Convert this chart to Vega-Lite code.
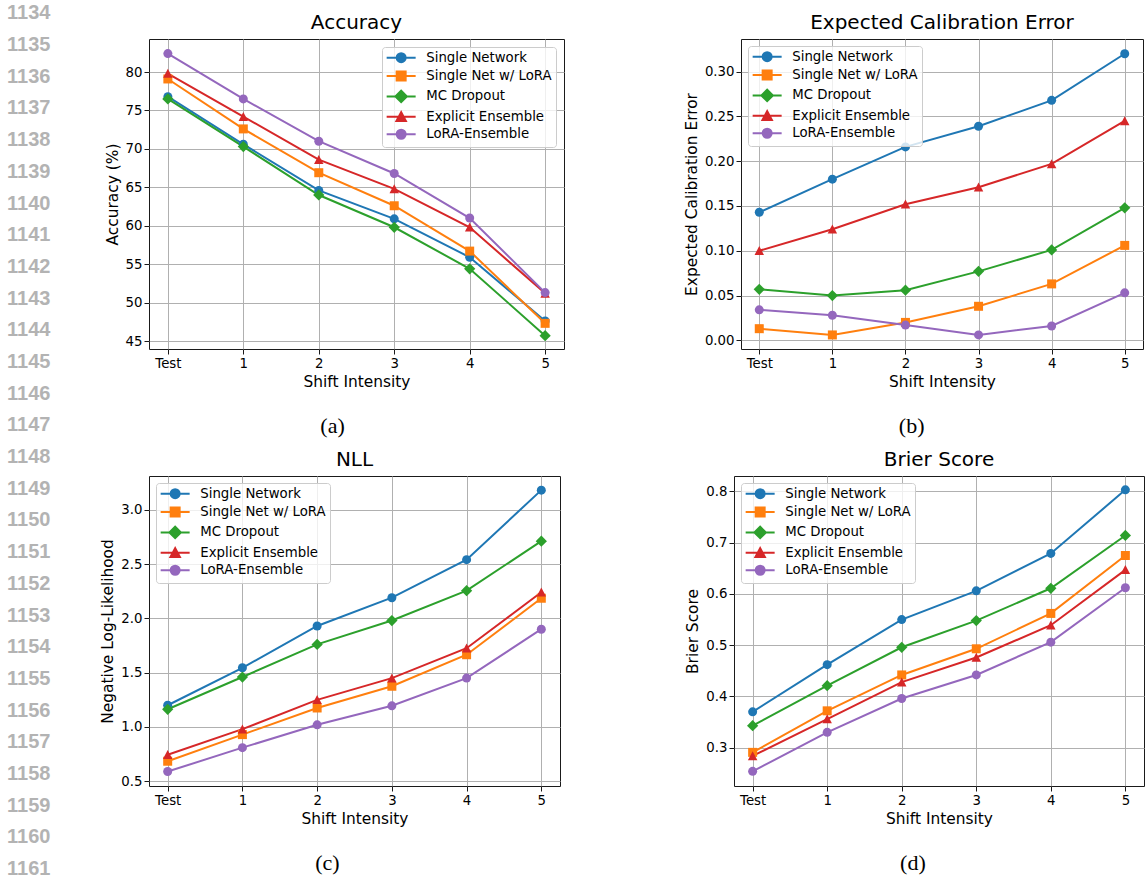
{
  "$schema": "https://vega.github.io/schema/vega-lite/v6.json",
  "padding": {"left": 7, "top": 3, "right": 0, "bottom": 0},
  "bounds": "flush",
  "spacing": 97,
  "data": {"values": [
    {"metric":"Accuracy","series":"Single Network","shift":"Test","value":76.8},
    {"metric":"Accuracy","series":"Single Network","shift":"1","value":70.6},
    {"metric":"Accuracy","series":"Single Network","shift":"2","value":64.6},
    {"metric":"Accuracy","series":"Single Network","shift":"3","value":60.9},
    {"metric":"Accuracy","series":"Single Network","shift":"4","value":55.9},
    {"metric":"Accuracy","series":"Single Network","shift":"5","value":47.6},
    {"metric":"Accuracy","series":"Single Net w/ LoRA","shift":"Test","value":79.1},
    {"metric":"Accuracy","series":"Single Net w/ LoRA","shift":"1","value":72.6},
    {"metric":"Accuracy","series":"Single Net w/ LoRA","shift":"2","value":66.9},
    {"metric":"Accuracy","series":"Single Net w/ LoRA","shift":"3","value":62.6},
    {"metric":"Accuracy","series":"Single Net w/ LoRA","shift":"4","value":56.7},
    {"metric":"Accuracy","series":"Single Net w/ LoRA","shift":"5","value":47.3},
    {"metric":"Accuracy","series":"MC Dropout","shift":"Test","value":76.5},
    {"metric":"Accuracy","series":"MC Dropout","shift":"1","value":70.3},
    {"metric":"Accuracy","series":"MC Dropout","shift":"2","value":64.0},
    {"metric":"Accuracy","series":"MC Dropout","shift":"3","value":59.8},
    {"metric":"Accuracy","series":"MC Dropout","shift":"4","value":54.4},
    {"metric":"Accuracy","series":"MC Dropout","shift":"5","value":45.7},
    {"metric":"Accuracy","series":"Explicit Ensemble","shift":"Test","value":79.8},
    {"metric":"Accuracy","series":"Explicit Ensemble","shift":"1","value":74.2},
    {"metric":"Accuracy","series":"Explicit Ensemble","shift":"2","value":68.6},
    {"metric":"Accuracy","series":"Explicit Ensemble","shift":"3","value":64.8},
    {"metric":"Accuracy","series":"Explicit Ensemble","shift":"4","value":59.8},
    {"metric":"Accuracy","series":"Explicit Ensemble","shift":"5","value":51.2},
    {"metric":"Accuracy","series":"LoRA-Ensemble","shift":"Test","value":82.4},
    {"metric":"Accuracy","series":"LoRA-Ensemble","shift":"1","value":76.5},
    {"metric":"Accuracy","series":"LoRA-Ensemble","shift":"2","value":71.0},
    {"metric":"Accuracy","series":"LoRA-Ensemble","shift":"3","value":66.8},
    {"metric":"Accuracy","series":"LoRA-Ensemble","shift":"4","value":61.0},
    {"metric":"Accuracy","series":"LoRA-Ensemble","shift":"5","value":51.3},
    {"metric":"ECE","series":"Single Network","shift":"Test","value":0.143},
    {"metric":"ECE","series":"Single Network","shift":"1","value":0.180},
    {"metric":"ECE","series":"Single Network","shift":"2","value":0.216},
    {"metric":"ECE","series":"Single Network","shift":"3","value":0.239},
    {"metric":"ECE","series":"Single Network","shift":"4","value":0.268},
    {"metric":"ECE","series":"Single Network","shift":"5","value":0.320},
    {"metric":"ECE","series":"Single Net w/ LoRA","shift":"Test","value":0.013},
    {"metric":"ECE","series":"Single Net w/ LoRA","shift":"1","value":0.006},
    {"metric":"ECE","series":"Single Net w/ LoRA","shift":"2","value":0.020},
    {"metric":"ECE","series":"Single Net w/ LoRA","shift":"3","value":0.038},
    {"metric":"ECE","series":"Single Net w/ LoRA","shift":"4","value":0.063},
    {"metric":"ECE","series":"Single Net w/ LoRA","shift":"5","value":0.106},
    {"metric":"ECE","series":"MC Dropout","shift":"Test","value":0.057},
    {"metric":"ECE","series":"MC Dropout","shift":"1","value":0.050},
    {"metric":"ECE","series":"MC Dropout","shift":"2","value":0.056},
    {"metric":"ECE","series":"MC Dropout","shift":"3","value":0.077},
    {"metric":"ECE","series":"MC Dropout","shift":"4","value":0.101},
    {"metric":"ECE","series":"MC Dropout","shift":"5","value":0.148},
    {"metric":"ECE","series":"Explicit Ensemble","shift":"Test","value":0.100},
    {"metric":"ECE","series":"Explicit Ensemble","shift":"1","value":0.124},
    {"metric":"ECE","series":"Explicit Ensemble","shift":"2","value":0.152},
    {"metric":"ECE","series":"Explicit Ensemble","shift":"3","value":0.171},
    {"metric":"ECE","series":"Explicit Ensemble","shift":"4","value":0.197},
    {"metric":"ECE","series":"Explicit Ensemble","shift":"5","value":0.245},
    {"metric":"ECE","series":"LoRA-Ensemble","shift":"Test","value":0.034},
    {"metric":"ECE","series":"LoRA-Ensemble","shift":"1","value":0.028},
    {"metric":"ECE","series":"LoRA-Ensemble","shift":"2","value":0.017},
    {"metric":"ECE","series":"LoRA-Ensemble","shift":"3","value":0.006},
    {"metric":"ECE","series":"LoRA-Ensemble","shift":"4","value":0.016},
    {"metric":"ECE","series":"LoRA-Ensemble","shift":"5","value":0.053},
    {"metric":"NLL","series":"Single Network","shift":"Test","value":1.20},
    {"metric":"NLL","series":"Single Network","shift":"1","value":1.545},
    {"metric":"NLL","series":"Single Network","shift":"2","value":1.93},
    {"metric":"NLL","series":"Single Network","shift":"3","value":2.19},
    {"metric":"NLL","series":"Single Network","shift":"4","value":2.54},
    {"metric":"NLL","series":"Single Network","shift":"5","value":3.18},
    {"metric":"NLL","series":"Single Net w/ LoRA","shift":"Test","value":0.685},
    {"metric":"NLL","series":"Single Net w/ LoRA","shift":"1","value":0.93},
    {"metric":"NLL","series":"Single Net w/ LoRA","shift":"2","value":1.175},
    {"metric":"NLL","series":"Single Net w/ LoRA","shift":"3","value":1.375},
    {"metric":"NLL","series":"Single Net w/ LoRA","shift":"4","value":1.665},
    {"metric":"NLL","series":"Single Net w/ LoRA","shift":"5","value":2.185},
    {"metric":"NLL","series":"MC Dropout","shift":"Test","value":1.163},
    {"metric":"NLL","series":"MC Dropout","shift":"1","value":1.46},
    {"metric":"NLL","series":"MC Dropout","shift":"2","value":1.76},
    {"metric":"NLL","series":"MC Dropout","shift":"3","value":1.98},
    {"metric":"NLL","series":"MC Dropout","shift":"4","value":2.255},
    {"metric":"NLL","series":"MC Dropout","shift":"5","value":2.71},
    {"metric":"NLL","series":"Explicit Ensemble","shift":"Test","value":0.745},
    {"metric":"NLL","series":"Explicit Ensemble","shift":"1","value":0.98},
    {"metric":"NLL","series":"Explicit Ensemble","shift":"2","value":1.25},
    {"metric":"NLL","series":"Explicit Ensemble","shift":"3","value":1.45},
    {"metric":"NLL","series":"Explicit Ensemble","shift":"4","value":1.725},
    {"metric":"NLL","series":"Explicit Ensemble","shift":"5","value":2.24},
    {"metric":"NLL","series":"LoRA-Ensemble","shift":"Test","value":0.59},
    {"metric":"NLL","series":"LoRA-Ensemble","shift":"1","value":0.81},
    {"metric":"NLL","series":"LoRA-Ensemble","shift":"2","value":1.02},
    {"metric":"NLL","series":"LoRA-Ensemble","shift":"3","value":1.195},
    {"metric":"NLL","series":"LoRA-Ensemble","shift":"4","value":1.45},
    {"metric":"NLL","series":"LoRA-Ensemble","shift":"5","value":1.90},
    {"metric":"Brier","series":"Single Network","shift":"Test","value":0.370},
    {"metric":"Brier","series":"Single Network","shift":"1","value":0.462},
    {"metric":"Brier","series":"Single Network","shift":"2","value":0.550},
    {"metric":"Brier","series":"Single Network","shift":"3","value":0.606},
    {"metric":"Brier","series":"Single Network","shift":"4","value":0.679},
    {"metric":"Brier","series":"Single Network","shift":"5","value":0.803},
    {"metric":"Brier","series":"Single Net w/ LoRA","shift":"Test","value":0.291},
    {"metric":"Brier","series":"Single Net w/ LoRA","shift":"1","value":0.372},
    {"metric":"Brier","series":"Single Net w/ LoRA","shift":"2","value":0.442},
    {"metric":"Brier","series":"Single Net w/ LoRA","shift":"3","value":0.493},
    {"metric":"Brier","series":"Single Net w/ LoRA","shift":"4","value":0.562},
    {"metric":"Brier","series":"Single Net w/ LoRA","shift":"5","value":0.675},
    {"metric":"Brier","series":"MC Dropout","shift":"Test","value":0.343},
    {"metric":"Brier","series":"MC Dropout","shift":"1","value":0.421},
    {"metric":"Brier","series":"MC Dropout","shift":"2","value":0.496},
    {"metric":"Brier","series":"MC Dropout","shift":"3","value":0.548},
    {"metric":"Brier","series":"MC Dropout","shift":"4","value":0.611},
    {"metric":"Brier","series":"MC Dropout","shift":"5","value":0.714},
    {"metric":"Brier","series":"Explicit Ensemble","shift":"Test","value":0.284},
    {"metric":"Brier","series":"Explicit Ensemble","shift":"1","value":0.356},
    {"metric":"Brier","series":"Explicit Ensemble","shift":"2","value":0.428},
    {"metric":"Brier","series":"Explicit Ensemble","shift":"3","value":0.476},
    {"metric":"Brier","series":"Explicit Ensemble","shift":"4","value":0.539},
    {"metric":"Brier","series":"Explicit Ensemble","shift":"5","value":0.647},
    {"metric":"Brier","series":"LoRA-Ensemble","shift":"Test","value":0.254},
    {"metric":"Brier","series":"LoRA-Ensemble","shift":"1","value":0.330},
    {"metric":"Brier","series":"LoRA-Ensemble","shift":"2","value":0.396},
    {"metric":"Brier","series":"LoRA-Ensemble","shift":"3","value":0.442},
    {"metric":"Brier","series":"LoRA-Ensemble","shift":"4","value":0.506},
    {"metric":"Brier","series":"LoRA-Ensemble","shift":"5","value":0.612}
  ]},
  "resolve": {"scale": {"color": "independent", "shape": "independent", "stroke": "independent"}, "legend": {"color": "independent", "shape": "independent", "stroke": "independent"}},
  "hconcat": [
    {
      "width": 45,
      "height": 840,
      "view": {"stroke": null},
      "data": {"values": [
        {"line":1134},{"line":1135},{"line":1136},{"line":1137},{"line":1138},{"line":1139},{"line":1140},
        {"line":1141},{"line":1142},{"line":1143},{"line":1144},{"line":1145},{"line":1146},{"line":1147},
        {"line":1148},{"line":1149},{"line":1150},{"line":1151},{"line":1152},{"line":1153},{"line":1154},
        {"line":1155},{"line":1156},{"line":1157},{"line":1158},{"line":1159},{"line":1160},{"line":1161}
      ]},
      "mark": {"type": "text", "align": "left", "baseline": "middle", "font": "Liberation Sans", "fontSize": 20, "fontWeight": "bold", "color": "#b3b3b3"},
      "encoding": {
        "x": {"datum": 0, "type": "quantitative", "scale": {"domain": [0, 1]}, "axis": null},
        "y": {"field": "line", "type": "quantitative", "scale": {"domain": [1134.81, 1161.31], "reverse": true, "nice": false, "zero": false}, "axis": null},
        "text": {"field": "line", "type": "nominal"}
      }
    },
    {
      "resolve": {"scale": {"color": "independent", "shape": "independent", "stroke": "independent"}, "legend": {"color": "independent", "shape": "independent", "stroke": "independent"}},
      "spacing": 11,
      "vconcat": [
        {
          "resolve": {"scale": {"color": "independent", "shape": "independent", "stroke": "independent"}, "legend": {"color": "independent", "shape": "independent", "stroke": "independent"}},
          "spacing": 118,
          "hconcat": [
            {
              "title": {"text": "(a)", "orient": "bottom", "font": "Liberation Serif", "fontSize": 22, "frame": "bounds", "offset": 26, "dx": -2},
              "resolve": {"scale": {"color": "independent", "shape": "independent", "stroke": "independent"}, "legend": {"color": "independent", "shape": "independent", "stroke": "independent"}},
              "vconcat": [
                {
                  "width": 415, "height": 310,
                  "title": {"text": "Accuracy"},
                  "transform": [{"filter": "datum.metric === 'Accuracy'"}],
                  "encoding": {
                    "x": {"field": "shift", "type": "ordinal", "sort": ["Test","1","2","3","4","5"], "scale": {"type": "point", "padding": 0.25}, "axis": {"title": "Shift Intensity", "grid": true}},
                    "y": {"field": "value", "type": "quantitative", "scale": {"domain": [43.96, 84.3], "nice": false, "zero": false}, "axis": {"title": "Accuracy (%)", "values": [45,50,55,60,65,70,75,80]}}
                  },
                  "resolve": {"scale": {"color": "independent", "shape": "independent", "stroke": "independent"}, "legend": {"color": "independent", "shape": "independent", "stroke": "independent"}},
                  "layer": [
                    {"mark": {"type": "line", "strokeWidth": 2},
                     "encoding": {"color": {"field": "series", "type": "nominal", "scale": {"domain": ["Single Network","Single Net w/ LoRA","MC Dropout","Explicit Ensemble","LoRA-Ensemble"], "range": ["#1f77b4","#ff7f0e","#2ca02c","#d62728","#9467bd"]}, "legend": null}}},
                    {"mark": {"type": "point", "filled": true, "opacity": 1, "size": 81},
                     "encoding": {
                       "color": {"field": "series", "type": "nominal", "scale": {"domain": ["Single Network","Single Net w/ LoRA","MC Dropout","Explicit Ensemble","LoRA-Ensemble"], "range": ["#1f77b4","#ff7f0e","#2ca02c","#d62728","#9467bd"]}, "legend": null},
                       "shape": {"field": "series", "type": "nominal", "scale": {"domain": ["Single Network","Single Net w/ LoRA","MC Dropout","Explicit Ensemble","LoRA-Ensemble"], "range": ["circle","square","M-1.25,0L0,-1.25L1.25,0L0,1.25Z","M0,-1.05L-1.05,0.95L1.05,0.95Z","circle"]}, "legend": null}}},
                    {"transform": [{"filter": "false"}],
                     "mark": {"type": "point", "filled": true, "opacity": 1},
                     "encoding": {
                       "color": {"field": "series", "type": "nominal", "scale": {"domain": ["Single Network","Single Net w/ LoRA","MC Dropout","Explicit Ensemble","LoRA-Ensemble"], "range": ["#1f77b4","#ff7f0e","#2ca02c","#d62728","#9467bd"]}, "legend": {"title": null, "orient": "top-right", "offset": 8}},
                       "stroke": {"field": "series", "type": "nominal", "scale": {"domain": ["Single Network","Single Net w/ LoRA","MC Dropout","Explicit Ensemble","LoRA-Ensemble"], "range": ["#1f77b4","#ff7f0e","#2ca02c","#d62728","#9467bd"]}, "legend": {"title": null, "orient": "top-right", "offset": 8}},
                       "shape": {"field": "series", "type": "nominal", "scale": {"domain": ["Single Network","Single Net w/ LoRA","MC Dropout","Explicit Ensemble","LoRA-Ensemble"], "range": ["M-2.9,0L2.9,0M-0.9,0A0.9,0.9,0,1,1,0.9,0A0.9,0.9,0,1,1,-0.9,0Z","M-2.9,0L2.9,0M-0.9,-0.9L0.9,-0.9L0.9,0.9L-0.9,0.9Z","M-2.9,0L2.9,0M-1.15,0L0,-1.15L1.15,0L0,1.15Z","M-2.9,0L2.9,0M0,-0.95L-0.95,0.85L0.95,0.85Z","M-2.9,0L2.9,0M-0.9,0A0.9,0.9,0,1,1,0.9,0A0.9,0.9,0,1,1,-0.9,0Z"]}, "legend": {"title": null, "orient": "top-right", "offset": 8}}}}
                  ]
                }
              ]
            },
            {
              "title": {"text": "(b)", "orient": "bottom", "font": "Liberation Serif", "fontSize": 22, "frame": "bounds", "offset": 26, "dx": -2},
              "resolve": {"scale": {"color": "independent", "shape": "independent", "stroke": "independent"}, "legend": {"color": "independent", "shape": "independent", "stroke": "independent"}},
              "vconcat": [
                {
                  "width": 402, "height": 310,
                  "title": {"text": "Expected Calibration Error"},
                  "transform": [{"filter": "datum.metric === 'ECE'"}],
                  "encoding": {
                    "x": {"field": "shift", "type": "ordinal", "sort": ["Test","1","2","3","4","5"], "scale": {"type": "point", "padding": 0.25}, "axis": {"title": "Shift Intensity", "grid": true}},
                    "y": {"field": "value", "type": "quantitative", "scale": {"domain": [-0.0097, 0.3365], "nice": false, "zero": false}, "axis": {"title": "Expected Calibration Error", "values": [0,0.05,0.1,0.15,0.2,0.25,0.3], "format": ".2f"}}
                  },
                  "resolve": {"scale": {"color": "independent", "shape": "independent", "stroke": "independent"}, "legend": {"color": "independent", "shape": "independent", "stroke": "independent"}},
                  "layer": [
                    {"mark": {"type": "line", "strokeWidth": 2},
                     "encoding": {"color": {"field": "series", "type": "nominal", "scale": {"domain": ["Single Network","Single Net w/ LoRA","MC Dropout","Explicit Ensemble","LoRA-Ensemble"], "range": ["#1f77b4","#ff7f0e","#2ca02c","#d62728","#9467bd"]}, "legend": null}}},
                    {"mark": {"type": "point", "filled": true, "opacity": 1, "size": 81},
                     "encoding": {
                       "color": {"field": "series", "type": "nominal", "scale": {"domain": ["Single Network","Single Net w/ LoRA","MC Dropout","Explicit Ensemble","LoRA-Ensemble"], "range": ["#1f77b4","#ff7f0e","#2ca02c","#d62728","#9467bd"]}, "legend": null},
                       "shape": {"field": "series", "type": "nominal", "scale": {"domain": ["Single Network","Single Net w/ LoRA","MC Dropout","Explicit Ensemble","LoRA-Ensemble"], "range": ["circle","square","M-1.25,0L0,-1.25L1.25,0L0,1.25Z","M0,-1.05L-1.05,0.95L1.05,0.95Z","circle"]}, "legend": null}}},
                    {"transform": [{"filter": "false"}],
                     "mark": {"type": "point", "filled": true, "opacity": 1},
                     "encoding": {
                       "color": {"field": "series", "type": "nominal", "scale": {"domain": ["Single Network","Single Net w/ LoRA","MC Dropout","Explicit Ensemble","LoRA-Ensemble"], "range": ["#1f77b4","#ff7f0e","#2ca02c","#d62728","#9467bd"]}, "legend": {"title": null, "orient": "top-left", "offset": 7}},
                       "stroke": {"field": "series", "type": "nominal", "scale": {"domain": ["Single Network","Single Net w/ LoRA","MC Dropout","Explicit Ensemble","LoRA-Ensemble"], "range": ["#1f77b4","#ff7f0e","#2ca02c","#d62728","#9467bd"]}, "legend": {"title": null, "orient": "top-left", "offset": 7}},
                       "shape": {"field": "series", "type": "nominal", "scale": {"domain": ["Single Network","Single Net w/ LoRA","MC Dropout","Explicit Ensemble","LoRA-Ensemble"], "range": ["M-2.9,0L2.9,0M-0.9,0A0.9,0.9,0,1,1,0.9,0A0.9,0.9,0,1,1,-0.9,0Z","M-2.9,0L2.9,0M-0.9,-0.9L0.9,-0.9L0.9,0.9L-0.9,0.9Z","M-2.9,0L2.9,0M-1.15,0L0,-1.15L1.15,0L0,1.15Z","M-2.9,0L2.9,0M0,-0.95L-0.95,0.85L0.95,0.85Z","M-2.9,0L2.9,0M-0.9,0A0.9,0.9,0,1,1,0.9,0A0.9,0.9,0,1,1,-0.9,0Z"]}, "legend": {"title": null, "orient": "top-left", "offset": 7}}}}
                  ]
                }
              ]
            }
          ]
        },
        {
          "resolve": {"scale": {"color": "independent", "shape": "independent", "stroke": "independent"}, "legend": {"color": "independent", "shape": "independent", "stroke": "independent"}},
          "spacing": 124,
          "hconcat": [
            {
              "title": {"text": "(c)", "orient": "bottom", "font": "Liberation Serif", "fontSize": 22, "frame": "bounds", "offset": 26, "dx": -3},
              "resolve": {"scale": {"color": "independent", "shape": "independent", "stroke": "independent"}, "legend": {"color": "independent", "shape": "independent", "stroke": "independent"}},
              "vconcat": [
                {
                  "width": 411, "height": 310,
                  "title": {"text": "NLL"},
                  "transform": [{"filter": "datum.metric === 'NLL'"}],
                  "encoding": {
                    "x": {"field": "shift", "type": "ordinal", "sort": ["Test","1","2","3","4","5"], "scale": {"type": "point", "padding": 0.25}, "axis": {"title": "Shift Intensity", "grid": true}},
                    "y": {"field": "value", "type": "quantitative", "scale": {"domain": [0.457, 3.31], "nice": false, "zero": false}, "axis": {"title": "Negative Log-Likelihood", "values": [0.5,1,1.5,2,2.5,3], "format": ".1f"}}
                  },
                  "resolve": {"scale": {"color": "independent", "shape": "independent", "stroke": "independent"}, "legend": {"color": "independent", "shape": "independent", "stroke": "independent"}},
                  "layer": [
                    {"mark": {"type": "line", "strokeWidth": 2},
                     "encoding": {"color": {"field": "series", "type": "nominal", "scale": {"domain": ["Single Network","Single Net w/ LoRA","MC Dropout","Explicit Ensemble","LoRA-Ensemble"], "range": ["#1f77b4","#ff7f0e","#2ca02c","#d62728","#9467bd"]}, "legend": null}}},
                    {"mark": {"type": "point", "filled": true, "opacity": 1, "size": 81},
                     "encoding": {
                       "color": {"field": "series", "type": "nominal", "scale": {"domain": ["Single Network","Single Net w/ LoRA","MC Dropout","Explicit Ensemble","LoRA-Ensemble"], "range": ["#1f77b4","#ff7f0e","#2ca02c","#d62728","#9467bd"]}, "legend": null},
                       "shape": {"field": "series", "type": "nominal", "scale": {"domain": ["Single Network","Single Net w/ LoRA","MC Dropout","Explicit Ensemble","LoRA-Ensemble"], "range": ["circle","square","M-1.25,0L0,-1.25L1.25,0L0,1.25Z","M0,-1.05L-1.05,0.95L1.05,0.95Z","circle"]}, "legend": null}}},
                    {"transform": [{"filter": "false"}],
                     "mark": {"type": "point", "filled": true, "opacity": 1},
                     "encoding": {
                       "color": {"field": "series", "type": "nominal", "scale": {"domain": ["Single Network","Single Net w/ LoRA","MC Dropout","Explicit Ensemble","LoRA-Ensemble"], "range": ["#1f77b4","#ff7f0e","#2ca02c","#d62728","#9467bd"]}, "legend": {"title": null, "orient": "top-left", "offset": 7}},
                       "stroke": {"field": "series", "type": "nominal", "scale": {"domain": ["Single Network","Single Net w/ LoRA","MC Dropout","Explicit Ensemble","LoRA-Ensemble"], "range": ["#1f77b4","#ff7f0e","#2ca02c","#d62728","#9467bd"]}, "legend": {"title": null, "orient": "top-left", "offset": 7}},
                       "shape": {"field": "series", "type": "nominal", "scale": {"domain": ["Single Network","Single Net w/ LoRA","MC Dropout","Explicit Ensemble","LoRA-Ensemble"], "range": ["M-2.9,0L2.9,0M-0.9,0A0.9,0.9,0,1,1,0.9,0A0.9,0.9,0,1,1,-0.9,0Z","M-2.9,0L2.9,0M-0.9,-0.9L0.9,-0.9L0.9,0.9L-0.9,0.9Z","M-2.9,0L2.9,0M-1.15,0L0,-1.15L1.15,0L0,1.15Z","M-2.9,0L2.9,0M0,-0.95L-0.95,0.85L0.95,0.85Z","M-2.9,0L2.9,0M-0.9,0A0.9,0.9,0,1,1,0.9,0A0.9,0.9,0,1,1,-0.9,0Z"]}, "legend": {"title": null, "orient": "top-left", "offset": 7}}}}
                  ]
                }
              ]
            },
            {
              "title": {"text": "(d)", "orient": "bottom", "font": "Liberation Serif", "fontSize": 22, "frame": "bounds", "offset": 26, "dx": -2},
              "resolve": {"scale": {"color": "independent", "shape": "independent", "stroke": "independent"}, "legend": {"color": "independent", "shape": "independent", "stroke": "independent"}},
              "vconcat": [
                {
                  "width": 410, "height": 310,
                  "title": {"text": "Brier Score"},
                  "transform": [{"filter": "datum.metric === 'Brier'"}],
                  "encoding": {
                    "x": {"field": "shift", "type": "ordinal", "sort": ["Test","1","2","3","4","5"], "scale": {"type": "point", "padding": 0.25}, "axis": {"title": "Shift Intensity", "grid": true}},
                    "y": {"field": "value", "type": "quantitative", "scale": {"domain": [0.2254, 0.83], "nice": false, "zero": false}, "axis": {"title": "Brier Score", "values": [0.3,0.4,0.5,0.6,0.7,0.8], "format": ".1f"}}
                  },
                  "resolve": {"scale": {"color": "independent", "shape": "independent", "stroke": "independent"}, "legend": {"color": "independent", "shape": "independent", "stroke": "independent"}},
                  "layer": [
                    {"mark": {"type": "line", "strokeWidth": 2},
                     "encoding": {"color": {"field": "series", "type": "nominal", "scale": {"domain": ["Single Network","Single Net w/ LoRA","MC Dropout","Explicit Ensemble","LoRA-Ensemble"], "range": ["#1f77b4","#ff7f0e","#2ca02c","#d62728","#9467bd"]}, "legend": null}}},
                    {"mark": {"type": "point", "filled": true, "opacity": 1, "size": 81},
                     "encoding": {
                       "color": {"field": "series", "type": "nominal", "scale": {"domain": ["Single Network","Single Net w/ LoRA","MC Dropout","Explicit Ensemble","LoRA-Ensemble"], "range": ["#1f77b4","#ff7f0e","#2ca02c","#d62728","#9467bd"]}, "legend": null},
                       "shape": {"field": "series", "type": "nominal", "scale": {"domain": ["Single Network","Single Net w/ LoRA","MC Dropout","Explicit Ensemble","LoRA-Ensemble"], "range": ["circle","square","M-1.25,0L0,-1.25L1.25,0L0,1.25Z","M0,-1.05L-1.05,0.95L1.05,0.95Z","circle"]}, "legend": null}}},
                    {"transform": [{"filter": "false"}],
                     "mark": {"type": "point", "filled": true, "opacity": 1},
                     "encoding": {
                       "color": {"field": "series", "type": "nominal", "scale": {"domain": ["Single Network","Single Net w/ LoRA","MC Dropout","Explicit Ensemble","LoRA-Ensemble"], "range": ["#1f77b4","#ff7f0e","#2ca02c","#d62728","#9467bd"]}, "legend": {"title": null, "orient": "top-left", "offset": 7}},
                       "stroke": {"field": "series", "type": "nominal", "scale": {"domain": ["Single Network","Single Net w/ LoRA","MC Dropout","Explicit Ensemble","LoRA-Ensemble"], "range": ["#1f77b4","#ff7f0e","#2ca02c","#d62728","#9467bd"]}, "legend": {"title": null, "orient": "top-left", "offset": 7}},
                       "shape": {"field": "series", "type": "nominal", "scale": {"domain": ["Single Network","Single Net w/ LoRA","MC Dropout","Explicit Ensemble","LoRA-Ensemble"], "range": ["M-2.9,0L2.9,0M-0.9,0A0.9,0.9,0,1,1,0.9,0A0.9,0.9,0,1,1,-0.9,0Z","M-2.9,0L2.9,0M-0.9,-0.9L0.9,-0.9L0.9,0.9L-0.9,0.9Z","M-2.9,0L2.9,0M-1.15,0L0,-1.15L1.15,0L0,1.15Z","M-2.9,0L2.9,0M0,-0.95L-0.95,0.85L0.95,0.85Z","M-2.9,0L2.9,0M-0.9,0A0.9,0.9,0,1,1,0.9,0A0.9,0.9,0,1,1,-0.9,0Z"]}, "legend": {"title": null, "orient": "top-left", "offset": 7}}}}
                  ]
                }
              ]
            }
          ]
        }
      ]
    }
  ],
  "config": {
    "font": "DejaVu Sans",
    "background": "white",
    "view": {"stroke": "#1a1a1a", "strokeWidth": 1},
    "axis": {"domain": false, "grid": true, "gridColor": "#b0b0b0", "gridWidth": 1, "tickColor": "#1a1a1a", "tickSize": 5, "tickWidth": 1,
      "labelFont": "DejaVu Sans", "labelFontSize": 13.3, "labelColor": "#000", "labelPadding": 2, "labelOverlap": false,
      "titleFont": "DejaVu Sans", "titleFontSize": 15.4, "titleFontWeight": "normal", "titleColor": "#000"},
    "axisX": {"labelAngle": 0, "titlePadding": 5},
    "axisY": {"titlePadding": 5},
    "legend": {"labelFont": "DejaVu Sans", "labelFontSize": 13.3, "labelColor": "#000", "padding": 4, "rowPadding": 0.4,
      "symbolSize": 100, "symbolStrokeWidth": 2, "symbolOffset": 8.5, "labelOffset": 18.5, "symbolOpacity": 1,
      "fillColor": "rgba(255,255,255,0.8)", "strokeColor": "#cccccc", "cornerRadius": 3},
    "title": {"font": "DejaVu Sans", "fontSize": 20, "fontWeight": "normal", "color": "#000", "frame": "group", "offset": 6, "anchor": "middle"}
  }
}
